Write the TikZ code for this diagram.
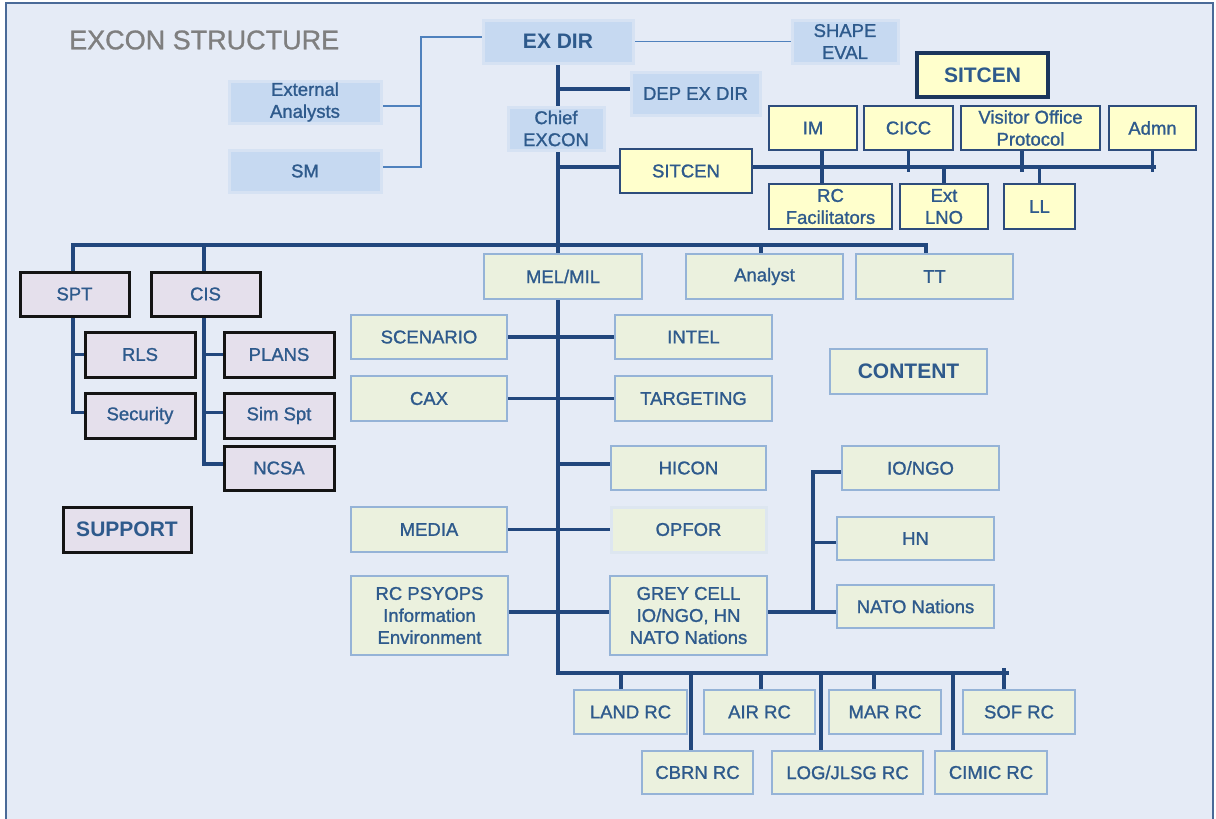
\documentclass[tikz,border=0pt]{standalone}
\usepackage{fontspec}
\setmainfont{Liberation Sans}
\newfontfamily\labelfont{Liberation Sans}[FakeBold=1.2]
\newfontfamily\titlefont{Liberation Sans}[FakeBold=1.0]
\usetikzlibrary{calc}
\pgfdeclarelayer{back}
\pgfdeclarelayer{wires}
\pgfsetlayers{back,wires,main}

\definecolor{pagebg}{HTML}{E5EBF6}
\definecolor{frameC}{HTML}{4A6A98}
\definecolor{txt}{HTML}{2E5A8C}
\definecolor{titleC}{HTML}{7F7F7F}
\definecolor{wire}{HTML}{22477D}
\definecolor{thinwire}{HTML}{4F81BD}
\definecolor{blueF}{HTML}{C6D9F1}
\definecolor{blueE}{HTML}{D6E2F3}
\definecolor{greenF}{HTML}{EBF1DE}
\definecolor{greenE}{HTML}{95B3D7}
\definecolor{softE}{HTML}{DDE6F0}
\definecolor{yelF}{HTML}{FFFFCC}
\definecolor{yelE}{HTML}{2D4C7C}
\definecolor{yelTop}{HTML}{1B365C}
\definecolor{purF}{HTML}{E5E0EC}

\tikzset{
  box/.style={rectangle, inner sep=0pt, align=center, text=txt,
    font=\labelfont\fontsize{18.5}{22}\selectfont},
  headtext/.style={font=\fontsize{21}{25}\selectfont\bfseries},
  bluebox/.style={box, fill=blueF, draw=blueE, line width=3pt},
  greenbox/.style={box, fill=greenF, draw=greenE, line width=2.6pt},
  softbox/.style={box, fill=greenF, draw=softE, line width=3pt},
  yelbox/.style={box, fill=yelF, draw=yelE, line width=2.6pt},
  yeltop/.style={box, fill=yelF, draw=yelTop, line width=3.4pt},
  purbox/.style={box, fill=purF, draw=black!92, line width=3pt},
  conn/.style={draw=wire, line width=3.8pt},
  thinconn/.style={draw=thinwire, line width=1.5pt},
}

% box from its corners (x1,y1)-(x2,y2), in pixel units, y downwards
\newcommand{\bx}[7]{%
  \node[#1, minimum width={#5-#3}, minimum height={#6-#4}] (#2)
    at ({(#3+#5)/2},{(#4+#6)/2}) {#7};}

\begin{document}
\begin{tikzpicture}[x=1pt, y=-1pt]
\clip (0,0) rectangle (1216,819);
\begin{pgfonlayer}{back}
  \fill[white] (0,0) rectangle (1216,819);
  \draw[fill=pagebg, draw=frameC, line width=2pt] (6,3) rectangle (1213,840);
\end{pgfonlayer}

\node[anchor=west, text=titleC, font=\titlefont\fontsize{27}{30}\selectfont, inner sep=0pt]
  (title) at (69,40) {EXCON STRUCTURE};

% direction
\bx{bluebox,headtext}{exdir}{483}{20}{633}{63}{EX DIR}
\bx{bluebox}{shape}{792}{20}{898}{63}{SHAPE\\EVAL}
\bx{bluebox}{extan}{229}{81}{381}{123}{External\\Analysts}
\bx{bluebox}{sm}{229}{150}{381}{192}{SM}
\bx{bluebox}{chief}{508}{107}{604}{150}{Chief\\EXCON}
\bx{bluebox}{depexdir}{631}{72}{760}{115}{DEP EX DIR}

% situation centre
\bx{yeltop,headtext}{sitcenT}{917}{53}{1048}{97}{SITCEN}
\bx{yelbox}{sitcen}{620}{149}{752}{193}{SITCEN}
\bx{yelbox}{im}{769}{106}{857}{150}{IM}
\bx{yelbox}{cicc}{864}{106}{953}{150}{CICC}
\bx{yelbox}{vop}{961}{106}{1100}{150}{Visitor Office\\Protocol}
\bx{yelbox}{admn}{1109}{106}{1196}{150}{Admn}
\bx{yelbox}{rcfac}{769}{184}{892}{229}{RC\\Facilitators}
\bx{yelbox}{extlno}{900}{184}{988}{229}{Ext\\LNO}
\bx{yelbox}{ll}{1004}{184}{1075}{229}{LL}

% support
\bx{purbox}{spt}{20}{272}{129}{316}{SPT}
\bx{purbox}{cis}{151}{272}{260}{316}{CIS}
\bx{purbox}{rls}{85}{332}{195}{377}{RLS}
\bx{purbox}{sec}{85}{393}{195}{438}{Security}
\bx{purbox}{plans}{224}{332}{334}{377}{PLANS}
\bx{purbox}{simspt}{224}{393}{334}{438}{Sim Spt}
\bx{purbox}{ncsa}{224}{446}{334}{490}{NCSA}
\bx{purbox,headtext}{support}{63}{507}{191}{552}{SUPPORT}

% content
\bx{greenbox}{melmil}{484}{254}{642}{299}{MEL/MIL}
\bx{greenbox}{analyst}{686}{254}{843}{299}{Analyst}
\bx{greenbox}{tt}{856}{254}{1013}{299}{TT}
\bx{greenbox}{scen}{351}{315}{507}{359}{SCENARIO}
\bx{greenbox}{intel}{615}{315}{772}{359}{INTEL}
\bx{greenbox}{cax}{351}{376}{507}{421}{CAX}
\bx{greenbox}{targ}{615}{376}{772}{421}{TARGETING}
\bx{greenbox,headtext}{content}{830}{349}{987}{394}{CONTENT}
\bx{greenbox}{hicon}{611}{446}{766}{490}{HICON}
\bx{greenbox}{iongo}{842}{446}{999}{490}{IO/NGO}
\bx{greenbox}{media}{351}{507}{507}{552}{MEDIA}
\bx{softbox}{opfor}{611}{507}{766}{552}{OPFOR}
\bx{greenbox}{hn}{837}{517}{994}{560}{HN}
\bx{greenbox}{nato}{837}{585}{994}{628}{NATO Nations}
\bx{greenbox}{psyops}{351}{576}{508}{655}{RC PSYOPS\\Information\\Environment}
\bx{greenbox}{grey}{610}{576}{767}{655}{GREY CELL\\IO/NGO, HN\\NATO Nations}

% response cells
\bx{greenbox}{land}{574}{690}{687}{734}{LAND RC}
\bx{greenbox}{air}{704}{690}{815}{734}{AIR RC}
\bx{greenbox}{mar}{829}{690}{941}{734}{MAR RC}
\bx{greenbox}{sof}{963}{690}{1075}{734}{SOF RC}
\bx{greenbox}{cbrn}{642}{751}{753}{794}{CBRN RC}
\bx{greenbox}{log}{772}{751}{923}{794}{LOG/JLSG RC}
\bx{greenbox}{cimic}{935}{751}{1047}{794}{CIMIC RC}

% junction points of the bus lines
\coordinate (tj) at (421,37);
\coordinate (sbE) at (1156,167);
\coordinate (ub) at (0,245);
\coordinate (gv) at (813,0);
\coordinate (be) at (1009,673);
\coordinate (sofTop) at (1004,668);
\coordinate (sptS) at ([xshift=-1.5pt]spt.south);
\coordinate (cisS) at ([xshift=-1.5pt]cis.south);

\begin{pgfonlayer}{wires}
  % advisers of the exercise director
  \draw[thinconn] ([yshift=4.5pt]exdir.west) -- ([yshift=4.5pt]exdir.west -| tj)
    |- ([yshift=4pt]sm.east);
  \draw[thinconn] ([yshift=-4pt]extan.east) -- ([yshift=-4pt]extan.east -| tj);
  \draw[thinconn] (exdir.east) -- (shape.west);

  % main trunk and bottom bus
  \draw[conn] (exdir.south) |- (be);
  \draw[conn] ([yshift=4.5pt]depexdir.west) -- ([yshift=4.5pt]depexdir.west -| exdir.south);

  % situation centre bus
  \draw[conn] (sbE -| exdir.south) -- (sbE);
  \draw[conn] ([xshift=9pt]im.south) -- ([xshift=9pt]im.south |- rcfac.north);
  \draw[conn] (cicc.south) -- ([yshift=-5pt]cicc.south |- sbE);
  \draw[conn] ([xshift=-8.5pt]vop.south) -- ([xshift=-8.5pt,yshift=-5pt]vop.south |- sbE);
  \draw[conn] (admn.south) -- ([yshift=-5pt]admn.south |- sbE);
  \draw[conn] (extlno.north) -- (extlno.north |- sbE);
  \draw[conn] (ll.north) -- (ll.north |- sbE);

  % support / content bus
  \draw[conn] (sptS |- spt.north) |- ([xshift=-8.5pt]tt.north |- ub)
    -- ([xshift=-8.5pt]tt.north);
  \draw[conn] (cisS |- cis.north) -- (cisS |- ub);
  \draw[conn] ([xshift=-3.5pt]analyst.north) -- ([xshift=-3.5pt]analyst.north |- ub);

  % support tree
  \draw[conn] (sptS) |- ([yshift=3pt]sec.west);
  \draw[conn] (rls.west -| sptS) -- (rls.west);
  \draw[conn] (cisS) |- ([yshift=4pt]ncsa.west);
  \draw[conn] (plans.west -| cisS) -- (plans.west);
  \draw[conn] ([yshift=3pt]simspt.west -| cisS) -- ([yshift=3pt]simspt.west);

  % content branches
  \draw[conn] (scen.east) -- (intel.west);
  \draw[conn] (cax.east) -- (targ.west);
  \draw[conn] ([yshift=4pt]hicon.west) -- ([yshift=4pt]hicon.west -| exdir.south);
  \draw[conn] (media.east) -- (opfor.west);
  \draw[conn] ([yshift=3.5pt]psyops.east) -- ([yshift=3.5pt]grey.west);
  \draw[conn] ([yshift=3.5pt]grey.east) -- ([yshift=3.5pt]grey.east -| nato.west);
  \draw[conn] ([yshift=-4pt]iongo.west) -| ([yshift=3.5pt]grey.east -| gv);
  \draw[conn] ([yshift=-4pt]hn.west) -- ([yshift=-4pt]hn.west -| gv);

  % response cell stems
  \draw[conn] ([xshift=-9.5pt]land.north) -- ([xshift=-9.5pt]land.north |- be);
  \draw[conn] ([xshift=-6.5pt]cbrn.north) -- ([xshift=-6.5pt]cbrn.north |- be);
  \draw[conn] ([xshift=1.5pt]air.north) -- ([xshift=1.5pt]air.north |- be);
  \draw[conn] ([xshift=-26.5pt]log.north) -- ([xshift=-26.5pt]log.north |- be);
  \draw[conn] ([xshift=-11pt]mar.north) -- ([xshift=-11pt]mar.north |- be);
  \draw[conn] ([xshift=-38pt]cimic.north) -- ([xshift=-38pt]cimic.north |- be);
  \draw[conn] (sof.north -| sofTop) -- (sofTop);
\end{pgfonlayer}
\end{tikzpicture}
\end{document}
